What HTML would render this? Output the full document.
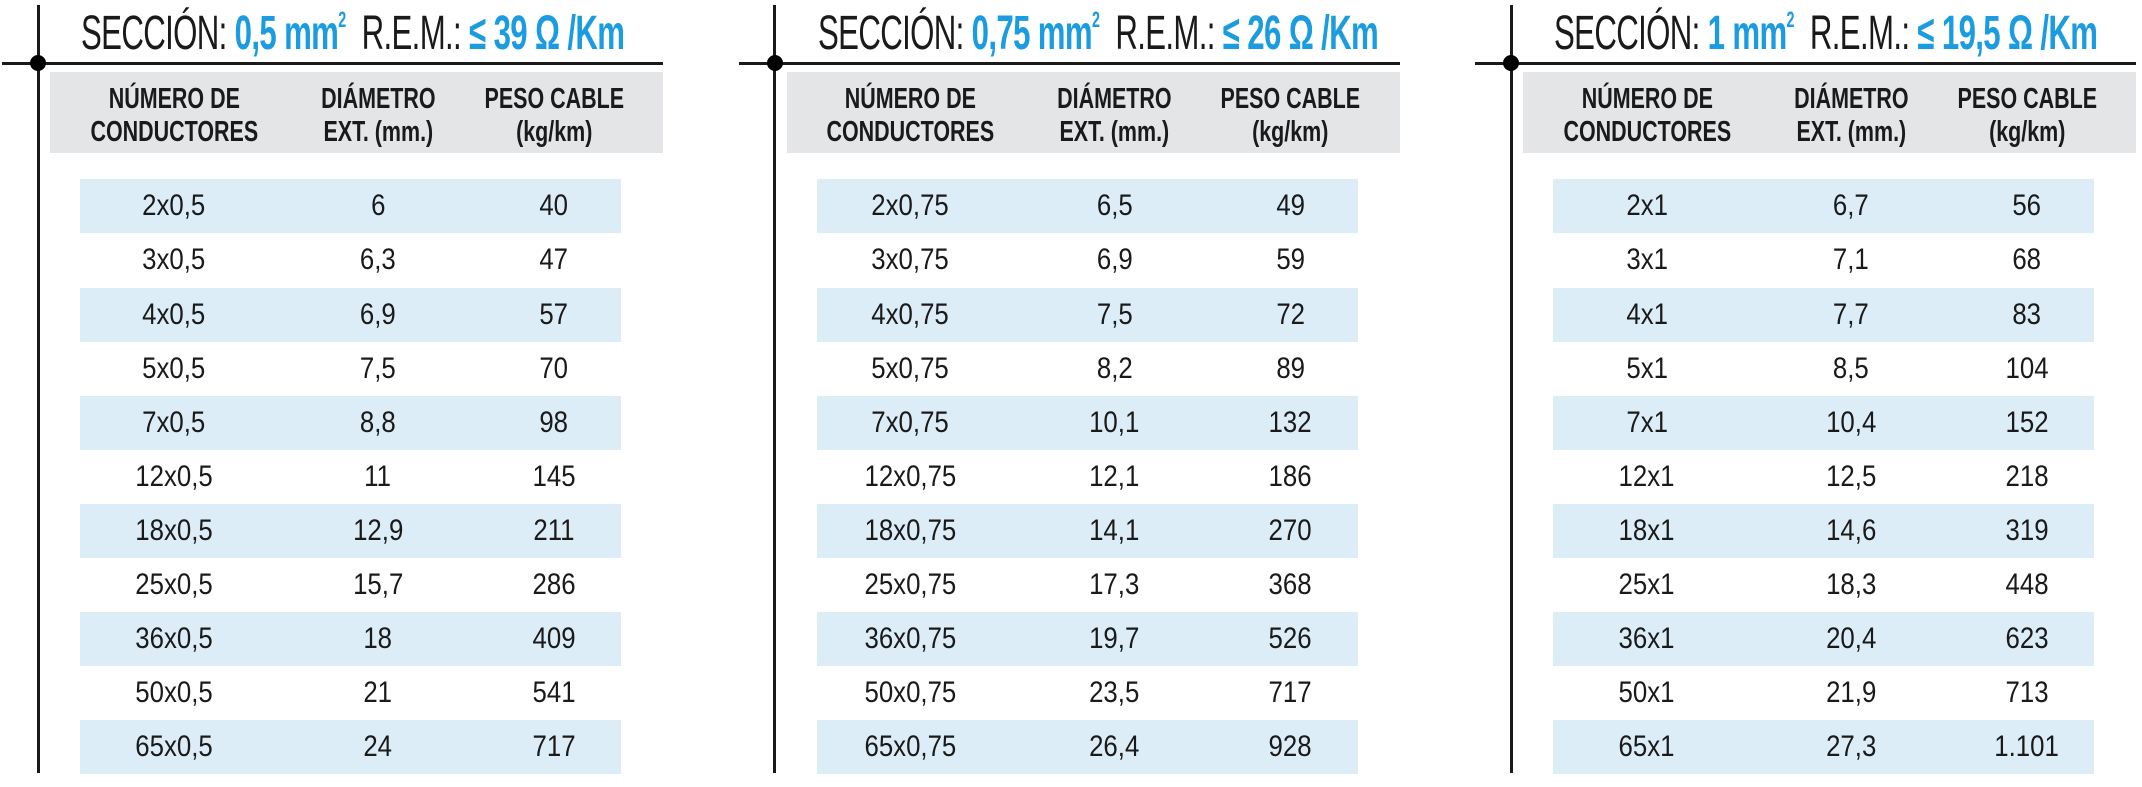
<!DOCTYPE html>
<html><head><meta charset="utf-8"><style>
*{margin:0;padding:0;box-sizing:border-box}
body{width:2142px;height:787px;background:#fff;position:relative;overflow:hidden;font-family:"Liberation Sans",sans-serif;color:#1a1a1a}
.p{position:absolute;top:0;width:700px;height:787px}
.vl{position:absolute;left:-1.5px;top:5px;width:3px;height:768px;background:#1a1a1a}
.hl{position:absolute;left:-36px;width:661px;top:62px;height:3px;background:#1a1a1a}
.dot{position:absolute;left:-8px;top:55px;width:16px;height:16px;border-radius:50%;background:#000}
.t{position:absolute;left:43px;top:-7px;white-space:nowrap;font-size:48px;line-height:54px;transform:scaleX(0.65);transform-origin:left top;letter-spacing:-1px}
.t b{color:#1b9be0}
.t sup{font-size:22px;vertical-align:22px}
.g{position:absolute;left:12px;width:613px;top:72px;height:81px;background:#e3e5e7}
.h{position:absolute;top:83px;width:240px;text-align:center;font-weight:bold;font-size:29px;line-height:33px}
.h span{display:inline-block;transform:scaleX(0.74)}
.r{position:absolute;left:0;width:640px;height:54px}
.r.b::before{content:"";position:absolute;left:42px;width:541px;top:0;height:54px;background:#dcedf8}
.c{position:absolute;top:0;width:200px;text-align:center;font-size:30px;line-height:54px}
.c span{display:inline-block;transform:scaleX(0.86)}
.c1{left:36px}.c2{left:240px}.c3{left:416px}
</style></head><body>

<div class="p" style="left:38px">
<div class="vl"></div><div class="hl"></div><div class="dot"></div>
<div class="t">SECCIÓN: <b>0,5 mm<sup>2</sup></b>&nbsp; R.E.M.: <b>≤ 39 Ω /Km</b></div>
<div class="g"></div>
<div class="h" style="left:16px"><span>NÚMERO DE<br>CONDUCTORES</span></div>
<div class="h" style="left:220px"><span>DIÁMETRO<br>EXT. (mm.)</span></div>
<div class="h" style="left:396px"><span>PESO CABLE<br>(kg/km)</span></div>
<div class="r b" style="top:179px"><div class="c c1"><span>2x0,5</span></div><div class="c c2"><span>6</span></div><div class="c c3"><span>40</span></div></div>
<div class="r" style="top:233px"><div class="c c1"><span>3x0,5</span></div><div class="c c2"><span>6,3</span></div><div class="c c3"><span>47</span></div></div>
<div class="r b" style="top:287.5px"><div class="c c1"><span>4x0,5</span></div><div class="c c2"><span>6,9</span></div><div class="c c3"><span>57</span></div></div>
<div class="r" style="top:341.5px"><div class="c c1"><span>5x0,5</span></div><div class="c c2"><span>7,5</span></div><div class="c c3"><span>70</span></div></div>
<div class="r b" style="top:396px"><div class="c c1"><span>7x0,5</span></div><div class="c c2"><span>8,8</span></div><div class="c c3"><span>98</span></div></div>
<div class="r" style="top:450px"><div class="c c1"><span>12x0,5</span></div><div class="c c2"><span>11</span></div><div class="c c3"><span>145</span></div></div>
<div class="r b" style="top:504px"><div class="c c1"><span>18x0,5</span></div><div class="c c2"><span>12,9</span></div><div class="c c3"><span>211</span></div></div>
<div class="r" style="top:558px"><div class="c c1"><span>25x0,5</span></div><div class="c c2"><span>15,7</span></div><div class="c c3"><span>286</span></div></div>
<div class="r b" style="top:612px"><div class="c c1"><span>36x0,5</span></div><div class="c c2"><span>18</span></div><div class="c c3"><span>409</span></div></div>
<div class="r" style="top:666px"><div class="c c1"><span>50x0,5</span></div><div class="c c2"><span>21</span></div><div class="c c3"><span>541</span></div></div>
<div class="r b" style="top:720px"><div class="c c1"><span>65x0,5</span></div><div class="c c2"><span>24</span></div><div class="c c3"><span>717</span></div></div>
</div>

<div class="p" style="left:774.5px">
<div class="vl"></div><div class="hl"></div><div class="dot"></div>
<div class="t">SECCIÓN: <b>0,75 mm<sup>2</sup></b>&nbsp; R.E.M.: <b>≤ 26 Ω /Km</b></div>
<div class="g"></div>
<div class="h" style="left:16px"><span>NÚMERO DE<br>CONDUCTORES</span></div>
<div class="h" style="left:220px"><span>DIÁMETRO<br>EXT. (mm.)</span></div>
<div class="h" style="left:396px"><span>PESO CABLE<br>(kg/km)</span></div>
<div class="r b" style="top:179px"><div class="c c1"><span>2x0,75</span></div><div class="c c2"><span>6,5</span></div><div class="c c3"><span>49</span></div></div>
<div class="r" style="top:233px"><div class="c c1"><span>3x0,75</span></div><div class="c c2"><span>6,9</span></div><div class="c c3"><span>59</span></div></div>
<div class="r b" style="top:287.5px"><div class="c c1"><span>4x0,75</span></div><div class="c c2"><span>7,5</span></div><div class="c c3"><span>72</span></div></div>
<div class="r" style="top:341.5px"><div class="c c1"><span>5x0,75</span></div><div class="c c2"><span>8,2</span></div><div class="c c3"><span>89</span></div></div>
<div class="r b" style="top:396px"><div class="c c1"><span>7x0,75</span></div><div class="c c2"><span>10,1</span></div><div class="c c3"><span>132</span></div></div>
<div class="r" style="top:450px"><div class="c c1"><span>12x0,75</span></div><div class="c c2"><span>12,1</span></div><div class="c c3"><span>186</span></div></div>
<div class="r b" style="top:504px"><div class="c c1"><span>18x0,75</span></div><div class="c c2"><span>14,1</span></div><div class="c c3"><span>270</span></div></div>
<div class="r" style="top:558px"><div class="c c1"><span>25x0,75</span></div><div class="c c2"><span>17,3</span></div><div class="c c3"><span>368</span></div></div>
<div class="r b" style="top:612px"><div class="c c1"><span>36x0,75</span></div><div class="c c2"><span>19,7</span></div><div class="c c3"><span>526</span></div></div>
<div class="r" style="top:666px"><div class="c c1"><span>50x0,75</span></div><div class="c c2"><span>23,5</span></div><div class="c c3"><span>717</span></div></div>
<div class="r b" style="top:720px"><div class="c c1"><span>65x0,75</span></div><div class="c c2"><span>26,4</span></div><div class="c c3"><span>928</span></div></div>
</div>

<div class="p" style="left:1511px">
<div class="vl"></div><div class="hl"></div><div class="dot"></div>
<div class="t">SECCIÓN: <b>1 mm<sup>2</sup></b>&nbsp; R.E.M.: <b>≤ 19,5 Ω /Km</b></div>
<div class="g"></div>
<div class="h" style="left:16px"><span>NÚMERO DE<br>CONDUCTORES</span></div>
<div class="h" style="left:220px"><span>DIÁMETRO<br>EXT. (mm.)</span></div>
<div class="h" style="left:396px"><span>PESO CABLE<br>(kg/km)</span></div>
<div class="r b" style="top:179px"><div class="c c1"><span>2x1</span></div><div class="c c2"><span>6,7</span></div><div class="c c3"><span>56</span></div></div>
<div class="r" style="top:233px"><div class="c c1"><span>3x1</span></div><div class="c c2"><span>7,1</span></div><div class="c c3"><span>68</span></div></div>
<div class="r b" style="top:287.5px"><div class="c c1"><span>4x1</span></div><div class="c c2"><span>7,7</span></div><div class="c c3"><span>83</span></div></div>
<div class="r" style="top:341.5px"><div class="c c1"><span>5x1</span></div><div class="c c2"><span>8,5</span></div><div class="c c3"><span>104</span></div></div>
<div class="r b" style="top:396px"><div class="c c1"><span>7x1</span></div><div class="c c2"><span>10,4</span></div><div class="c c3"><span>152</span></div></div>
<div class="r" style="top:450px"><div class="c c1"><span>12x1</span></div><div class="c c2"><span>12,5</span></div><div class="c c3"><span>218</span></div></div>
<div class="r b" style="top:504px"><div class="c c1"><span>18x1</span></div><div class="c c2"><span>14,6</span></div><div class="c c3"><span>319</span></div></div>
<div class="r" style="top:558px"><div class="c c1"><span>25x1</span></div><div class="c c2"><span>18,3</span></div><div class="c c3"><span>448</span></div></div>
<div class="r b" style="top:612px"><div class="c c1"><span>36x1</span></div><div class="c c2"><span>20,4</span></div><div class="c c3"><span>623</span></div></div>
<div class="r" style="top:666px"><div class="c c1"><span>50x1</span></div><div class="c c2"><span>21,9</span></div><div class="c c3"><span>713</span></div></div>
<div class="r b" style="top:720px"><div class="c c1"><span>65x1</span></div><div class="c c2"><span>27,3</span></div><div class="c c3"><span>1.101</span></div></div>
</div>
</body></html>
